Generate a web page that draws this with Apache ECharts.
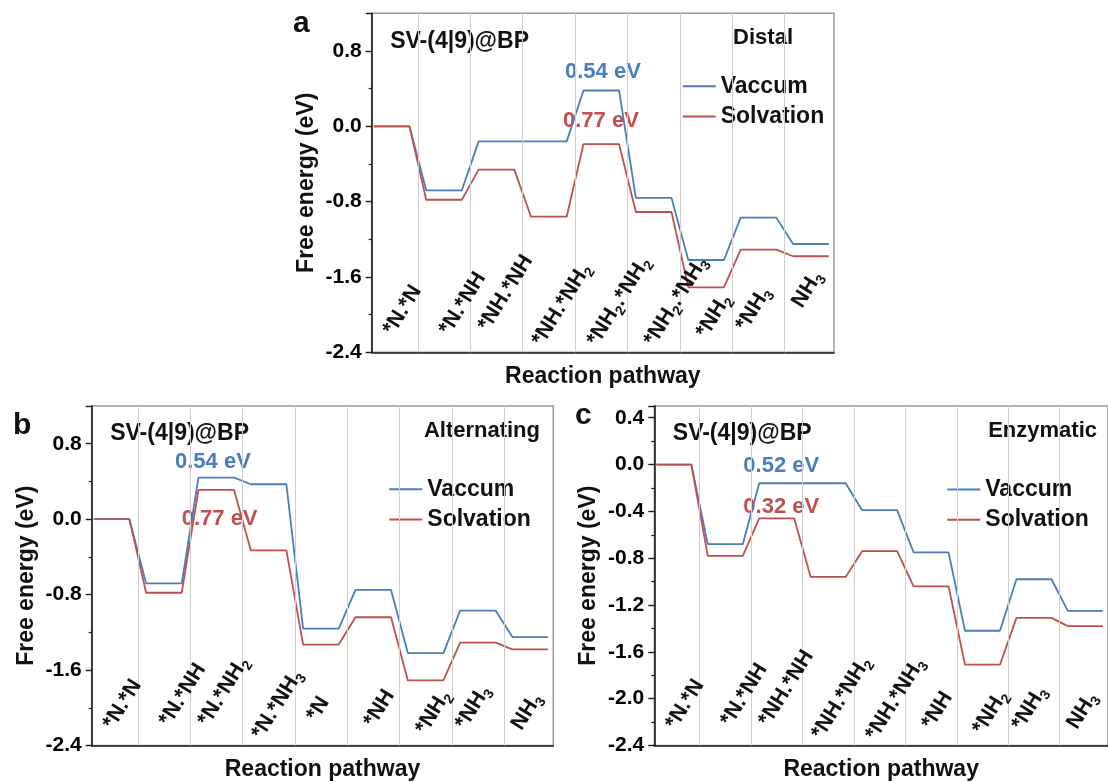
<!DOCTYPE html>
<html>
<head>
<meta charset="utf-8">
<title>Free energy diagrams - SV-(4|9)@BP</title>
<script src="https://cdn.jsdelivr.net/npm/echarts@6/dist/echarts.min.js"></script>
<style>
  html, body { margin: 0; padding: 0; background: #fff; }
  #chart { width: 1108px; height: 782px; }
</style>
</head>
<body>
<div id="chart"></div>
<script>
/* ---------- Data (free energy, eV) ---------- */
const seriesNames = ['Vaccum', 'Solvation'];

const distalSteps = ['*N.*N', '*N.*NH', '*NH.*NH', '*NH.*NH2', '*NH2.*NH2', '*NH2.*NH3', '*NH2', '*NH3', 'NH3'];
const distalVaccum = [0, -0.68, -0.16, -0.16, 0.38, -0.76, -1.42, -0.97, -1.25];
const distalSolvation = [0, -0.78, -0.46, -0.96, -0.19, -0.91, -1.71, -1.31, -1.38];

const alternatingSteps = ['*N.*N', '*N.*NH', '*N.*NH2', '*N.*NH3', '*N', '*NH', '*NH2', '*NH3', 'NH3'];
const alternatingVaccum = [0, -0.68, 0.44, 0.37, -1.16, -0.75, -1.42, -0.97, -1.25];
const alternatingSolvation = [0, -0.78, 0.31, -0.33, -1.33, -1.04, -1.71, -1.31, -1.38];

const enzymaticSteps = ['*N.*N', '*N.*NH', '*NH.*NH', '*NH.*NH2', '*NH.*NH3', '*NH', '*NH2', '*NH3', 'NH3'];
const enzymaticVaccum = [0, -0.68, -0.16, -0.16, -0.39, -0.75, -1.42, -0.98, -1.25];
const enzymaticSolvation = [0, -0.78, -0.46, -0.96, -0.74, -1.04, -1.71, -1.31, -1.38];

const distalBarriers = ['0.54 eV', '0.77 eV'];
const alternatingBarriers = ['0.54 eV', '0.77 eV'];
const enzymaticBarriers = ['0.52 eV', '0.32 eV'];

const yTicksAB = [-2.4, 1.2, 0.8];   // min, max, interval
const yTicksC = [-2.4, 0.5, 0.4];

/* ---------- Style ---------- */
const FONT = '"Liberation Sans", Arial, Helvetica, sans-serif';
const BLUE = '#4a7ebb';
const RED = '#c0504d';
const INK = '#111';
const AXIS = '#1a1a1a';
const X_MIN = 0.12, X_MAX = 8.94;
const ROT = 58 * Math.PI / 180;
// where each rotated step label starts inside its slot (slot fraction)
const LABEL_DX = [0.30, 0.37, 0.11, 0.14, 0.19, 0.28, 0.27, 0.03, 0.10];

const panels = [
  { letter: 'a', mode: 'Distal', steps: distalSteps, vac: distalVaccum, sol: distalSolvation,
    notes: distalBarriers, ticks: yTicksAB,
    box: [371.7, 13.3, 462.3, 339],
    letterAt: [293, 24], modeAt: [793, 38], notesAt: [[565, 72], [563, 121]], legendAt: [682.7, 74.7],
    lift: [20, 20, 24, 9, 9, 9, 17, 24, 47] },
  { letter: 'b', mode: 'Alternating', steps: alternatingSteps, vac: alternatingVaccum, sol: alternatingSolvation,
    notes: alternatingBarriers, ticks: yTicksAB,
    box: [91.7, 406, 461.6, 340],
    letterAt: [13, 426], modeAt: [540, 431], notesAt: [[175, 462], [181.7, 519]], legendAt: [389.3, 477.7],
    lift: [19, 22, 22, 9, 27, 21, 14, 19, 18] },
  { letter: 'c', mode: 'Enzymatic', steps: enzymaticSteps, vac: enzymaticVaccum, sol: enzymaticSolvation,
    notes: enzymaticBarriers, ticks: yTicksC,
    box: [654.3, 406, 461.7, 340],
    letterAt: [575, 416], modeAt: [1097, 431], notesAt: [[743.3, 466], [743.3, 506.5]], legendAt: [947.3, 478],
    lift: [19, 22, 22, 9, 8, 19, 14, 18, 19] }
];

/* level segments: each intermediate drawn flat across the middle of its slot */
function stepPoints(levels) {
  const pts = [];
  levels.forEach((v, i) => { pts.push([i + 0.16, v], [i + 0.84, v]); });
  return pts;
}

/* every digit in a species name is a subscript */
function subs(label) {
  return label.split(/(\d)/).filter(t => t).map(t => /\d/.test(t) ? '{s|' + t + '}' : '{m|' + t + '}').join('');
}

const labelRich = {
  m: { fontSize: 21.5, fontWeight: 'bold', fontFamily: FONT, lineHeight: 28, color: INK, fill: INK },
  s: { fontSize: 14, fontWeight: 'bold', fontFamily: FONT, lineHeight: 14, verticalAlign: 'bottom', color: INK, fill: INK }
};

function txt(text, x, y, color, size, align) {
  return {
    type: 'text', x: x, y: y, silent: true,
    style: { text: text, fill: color, font: 'bold ' + size + 'px ' + FONT,
      align: align || 'left', verticalAlign: 'middle' }
  };
}

const chart = echarts.init(document.getElementById('chart'));
const grid = [], xAxis = [], yAxis = [], series = [], legend = [], graphic = [];
const nameStyle = { fontSize: 23, fontWeight: 'bold', fontFamily: FONT, color: INK };

panels.forEach((p, k) => {
  grid.push({ left: p.box[0], top: p.box[1], width: p.box[2], height: p.box[3],
    show: true, borderColor: '#9a9a9a', borderWidth: 1.5, backgroundColor: 'transparent' });

  xAxis.push({
    gridIndex: k, type: 'value', min: X_MIN, max: X_MAX,
    name: 'Reaction pathway', nameLocation: 'middle', nameGap: 12.5, nameTextStyle: nameStyle,
    axisLine: { onZero: false, lineStyle: { color: AXIS, width: 1.6 } },
    axisTick: { show: false }, axisLabel: { show: false }, splitLine: { show: false }
  });

  yAxis.push({
    gridIndex: k, type: 'value', min: p.ticks[0], max: p.ticks[1], interval: p.ticks[2],
    name: 'Free energy (eV)', nameLocation: 'middle', nameGap: 54, nameTextStyle: nameStyle,
    axisLine: { show: true, onZero: false, lineStyle: { color: AXIS, width: 1.6 } },
    axisTick: { show: true, inside: false, length: 6, lineStyle: { color: AXIS, width: 1.4 } },
    minorTick: { show: true, splitNumber: 2, length: 3, lineStyle: { color: AXIS, width: 1.2 } },
    axisLabel: { color: '#000', fontSize: 21, fontWeight: 'bold', fontFamily: FONT, margin: 10,
      showMaxLabel: false, formatter: v => v.toFixed(1) },
    splitLine: { show: false }
  });

  series.push({
    name: seriesNames[0], type: 'line', xAxisIndex: k, yAxisIndex: k,
    data: stepPoints(p.vac), symbol: 'none', animation: false,
    lineStyle: { color: BLUE, width: 1.8 }, itemStyle: { color: BLUE },
    markLine: {
      silent: true, symbol: ['none', 'none'], label: { show: false }, animation: false,
      lineStyle: { color: '#cfcfcf', width: 1, type: 'solid' },
      data: p.steps.slice(1).map((s, i) => ({ xAxis: i + 1 }))
    }
  });
  series.push({
    name: seriesNames[1], type: 'line', xAxisIndex: k, yAxisIndex: k,
    data: stepPoints(p.sol), symbol: 'none', animation: false,
    lineStyle: { color: RED, width: 1.8 }, itemStyle: { color: RED }
  });

  // rotated step labels placed inside the plot
  series.push({
    type: 'custom', xAxisIndex: k, yAxisIndex: k, silent: true, animation: false, z: 5,
    data: p.steps.map((s, i) => [i]),
    renderItem: (params, api) => {
      const i = api.value(0);
      const base = api.coord([i + LABEL_DX[i], p.ticks[0]]);
      return {
        type: 'text', x: base[0] + 19, y: base[1] - p.lift[i] + 8, rotation: ROT,
        style: {
          text: subs(p.steps[i]), fill: INK, font: 'bold 22px ' + FONT,
          align: 'left', verticalAlign: 'bottom', rich: labelRich
        }
      };
    }
  });

  legend.push({
    data: seriesNames, orient: 'vertical', left: p.legendAt[0], top: p.legendAt[1],
    icon: 'rect', itemWidth: 33, itemHeight: 2, itemGap: 7.3, padding: 0, selectedMode: false,
    textStyle: { fontSize: 23, fontWeight: 'bold', fontFamily: FONT, color: INK, lineHeight: 22 }
  });

  graphic.push(txt(p.letter, p.letterAt[0], p.letterAt[1], INK, 30));
  graphic.push(txt('SV-(4|9)@BP', p.box[0] + 18.5, p.box[1] + 28, INK, 23));
  graphic.push(txt(p.mode, p.modeAt[0], p.modeAt[1], INK, 22, 'right'));
  graphic.push(txt(p.notes[0], p.notesAt[0][0], p.notesAt[0][1], BLUE, 22));
  graphic.push(txt(p.notes[1], p.notesAt[1][0], p.notesAt[1][1], RED, 22));
});

chart.setOption({
  animation: false,
  backgroundColor: '#fff',
  grid: grid, xAxis: xAxis, yAxis: yAxis, series: series, legend: legend,
  graphic: { elements: graphic }
});
</script>
</body>
</html>
